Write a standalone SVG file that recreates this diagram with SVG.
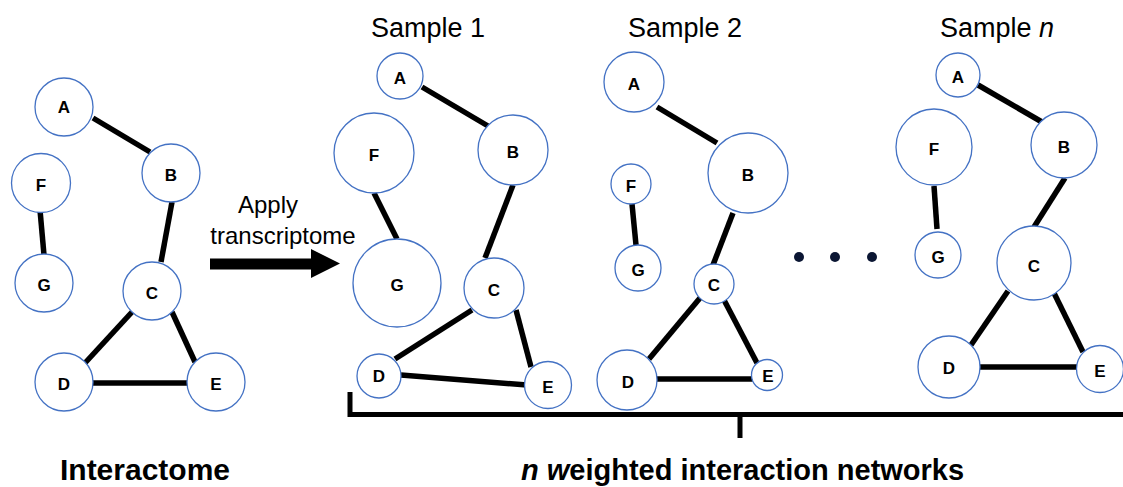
<svg xmlns="http://www.w3.org/2000/svg" width="1123" height="487" viewBox="0 0 1123 487">
<style>
.n circle{fill:#fff;stroke:#4472c4;stroke-width:1.3}
.n text{font-family:"Liberation Sans",Arial,sans-serif;font-weight:bold;font-size:17px;fill:#000;text-anchor:middle;dominant-baseline:central}
.e line{stroke:#000;stroke-width:5.5}
.t{font-family:"Liberation Sans",Arial,sans-serif;fill:#000}
.title{font-size:27px;text-anchor:middle}
.big{font-weight:bold}
.dot{fill:#0b1633}
</style>
<rect width="1123" height="487" fill="#fff"/>

<g id="connectors" class="e">
  <!-- Interactome -->
  <line x1="93" y1="118" x2="150" y2="152"/>
  <line x1="172" y1="202" x2="161" y2="262"/>
  <line x1="40" y1="210" x2="44" y2="255"/>
  <line x1="132" y1="312" x2="85" y2="363"/>
  <line x1="172" y1="312" x2="195" y2="362"/>
  <line x1="93" y1="383" x2="187" y2="383"/>
  <!-- Sample 1 -->
  <line x1="422" y1="87" x2="488" y2="126"/>
  <line x1="374" y1="193" x2="397" y2="239"/>
  <line x1="513" y1="185" x2="485" y2="258"/>
  <line x1="472" y1="310" x2="395" y2="359"/>
  <line x1="516" y1="310" x2="531" y2="367"/>
  <line x1="401" y1="375" x2="527" y2="385"/>
  <!-- Sample 2 -->
  <line x1="657" y1="107" x2="717" y2="143"/>
  <line x1="632" y1="204" x2="636" y2="245"/>
  <line x1="733" y1="213" x2="713" y2="265"/>
  <line x1="700" y1="298" x2="649" y2="359"/>
  <line x1="724" y1="300" x2="757" y2="363"/>
  <line x1="657" y1="379" x2="753" y2="379"/>
  <!-- Sample n -->
  <line x1="978" y1="85" x2="1042" y2="122"/>
  <line x1="934" y1="186" x2="937" y2="229"/>
  <line x1="1065" y1="178" x2="1034" y2="227"/>
  <line x1="1008" y1="291" x2="971" y2="345"/>
  <line x1="1054" y1="293" x2="1083" y2="352"/>
  <line x1="980" y1="367" x2="1078" y2="367"/>
</g>

<!-- Interactome nodes -->
<g id="int-A" class="n"><circle cx="64" cy="107" r="29"/><text x="64" y="107">A</text></g>
<g id="int-B" class="n"><circle cx="171" cy="173" r="29"/><text x="171" y="175">B</text></g>
<g id="int-C" class="n"><circle cx="152" cy="291" r="29"/><text x="152" y="293">C</text></g>
<g id="int-D" class="n"><circle cx="64" cy="382" r="29"/><text x="64" y="384">D</text></g>
<g id="int-E" class="n"><circle cx="216" cy="382" r="29"/><text x="216" y="384">E</text></g>
<g id="int-F" class="n"><circle cx="41" cy="183" r="29.5"/><text x="41" y="185">F</text></g>
<g id="int-G" class="n"><circle cx="44" cy="283" r="29"/><text x="44" y="285">G</text></g>

<!-- Sample 1 nodes -->
<g id="s1-A" class="n"><circle cx="400" cy="76" r="23"/><text x="400" y="78">A</text></g>
<g id="s1-B" class="n"><circle cx="513" cy="150" r="35"/><text x="513" y="152">B</text></g>
<g id="s1-C" class="n"><circle cx="494" cy="288" r="30"/><text x="494" y="290">C</text></g>
<g id="s1-D" class="n"><circle cx="379" cy="376" r="22"/><text x="379" y="376">D</text></g>
<g id="s1-E" class="n"><circle cx="548" cy="385" r="23.5"/><text x="548" y="387">E</text></g>
<g id="s1-F" class="n"><circle cx="374" cy="153" r="40"/><text x="374" y="155">F</text></g>
<g id="s1-G" class="n"><circle cx="397" cy="283" r="44"/><text x="397" y="285">G</text></g>

<!-- Sample 2 nodes -->
<g id="s2-A" class="n"><circle cx="634" cy="82" r="30"/><text x="634" y="84">A</text></g>
<g id="s2-B" class="n"><circle cx="748" cy="173" r="40"/><text x="748" y="175">B</text></g>
<g id="s2-C" class="n"><circle cx="714" cy="284" r="20"/><text x="714" y="285">C</text></g>
<g id="s2-D" class="n"><circle cx="627" cy="380" r="30"/><text x="628" y="382">D</text></g>
<g id="s2-E" class="n"><circle cx="767" cy="375" r="15.5"/><text x="768" y="376">E</text></g>
<g id="s2-F" class="n"><circle cx="631" cy="184" r="20"/><text x="631" y="186">F</text></g>
<g id="s2-G" class="n"><circle cx="638" cy="268" r="23"/><text x="638" y="270">G</text></g>

<!-- ellipsis dots -->
<g id="ellipsis">
  <circle class="dot" cx="799" cy="257" r="5"/>
  <circle class="dot" cx="835" cy="257" r="5"/>
  <circle class="dot" cx="872" cy="257" r="5"/>
</g>

<!-- Sample n nodes -->
<g id="sn-A" class="n"><circle cx="958" cy="75" r="22"/><text x="958" y="77">A</text></g>
<g id="sn-B" class="n"><circle cx="1064" cy="145" r="33"/><text x="1064" y="147">B</text></g>
<g id="sn-C" class="n"><circle cx="1034" cy="263" r="37"/><text x="1034" y="266">C</text></g>
<g id="sn-D" class="n"><circle cx="949" cy="367" r="31"/><text x="949" y="368">D</text></g>
<g id="sn-E" class="n"><circle cx="1100" cy="369" r="23.5"/><text x="1100" y="371">E</text></g>
<g id="sn-F" class="n"><circle cx="934" cy="147" r="38"/><text x="934" y="149">F</text></g>
<g id="sn-G" class="n"><circle cx="938" cy="255" r="23"/><text x="938" y="257">G</text></g>

<!-- Apply arrow -->
<g id="apply-arrow">
  <text class="t" x="268" y="213" font-size="24" text-anchor="middle">Apply</text>
  <text class="t" x="283" y="244" font-size="24" text-anchor="middle">transcriptome</text>
  <polygon points="210,258.5 311,258.5 311,249 340,263.5 311,278 311,269.5 210,269.5" fill="#000"/>
</g>

<!-- Sample titles -->
<g id="titles">
  <text class="t title" x="428" y="37">Sample 1</text>
  <text class="t title" x="685" y="37">Sample 2</text>
  <text class="t title" x="997" y="37">Sample <tspan font-style="italic">n</tspan></text>
</g>

<!-- bracket -->
<g id="bracket" fill="none" stroke="#000" stroke-width="5">
  <polyline points="350,392 350,414.5 1126,414.5"/>
  <line x1="740" y1="414" x2="740" y2="438"/>
  <line x1="1125.5" y1="392" x2="1125.5" y2="414"/>
</g>

<!-- bottom labels -->
<g id="labels">
  <text class="t big" x="145" y="480" text-anchor="middle" style="font-size:30px">Interactome</text>
  <text class="t big" x="521" y="480" style="font-size:29px"><tspan font-style="italic">n w</tspan>eighted interaction networks</text>
</g>
</svg>
